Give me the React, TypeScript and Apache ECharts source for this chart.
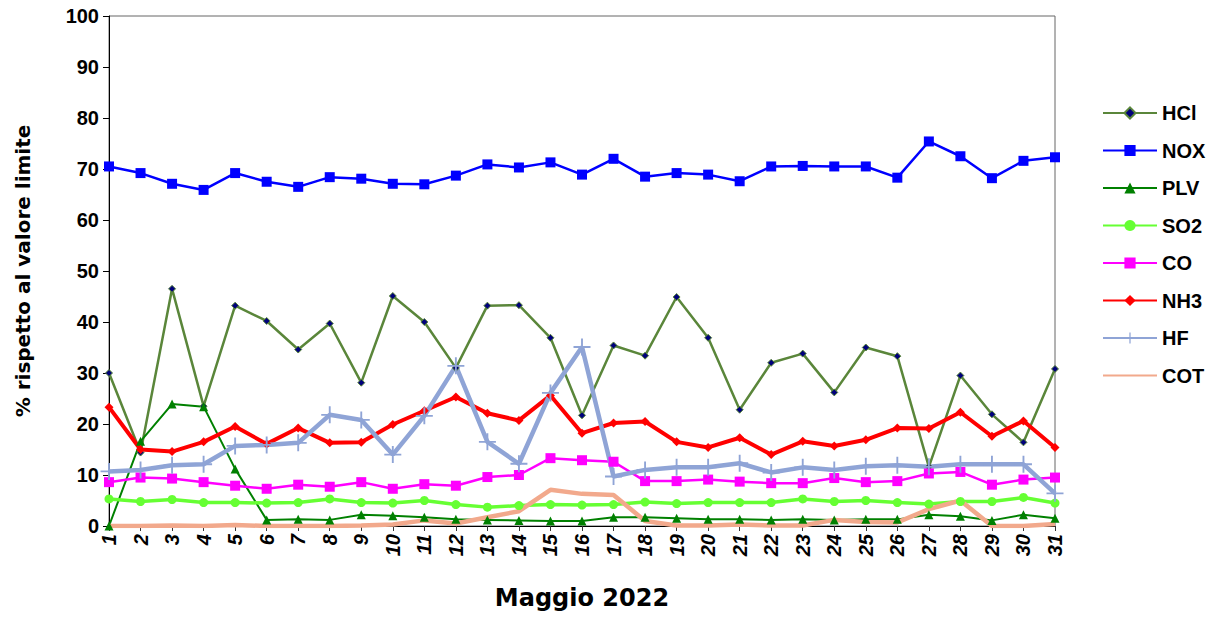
import React, { useEffect, useRef } from "react";
import * as echarts from "echarts";

const days = Array.from({ length: 31 }, (_, i) => String(i + 1));

const hcl = [30, 14.4, 46.5, 23.5, 43.2, 40.2, 34.6, 39.7, 28.1, 45.1, 40, 31, 43.2, 43.3, 36.9, 21.7, 35.4, 33.4, 44.9, 36.9, 22.8, 32, 33.8, 26.2, 35, 33.3, 11.6, 29.5, 21.9, 16.4, 30.8];
const nox = [70.5, 69.2, 67.1, 65.9, 69.2, 67.5, 66.5, 68.4, 68.1, 67.1, 67, 68.7, 70.9, 70.3, 71.3, 68.9, 72, 68.5, 69.2, 68.9, 67.6, 70.5, 70.6, 70.5, 70.5, 68.3, 75.4, 72.5, 68.2, 71.6, 72.3];
const plv = [0, 16.6, 23.9, 23.4, 11.2, 1.2, 1.3, 1.2, 2.2, 2.0, 1.7, 1.3, 1.2, 1.1, 1.0, 1.0, 1.7, 1.7, 1.5, 1.3, 1.3, 1.2, 1.3, 1.2, 1.3, 1.3, 2.2, 1.9, 1.1, 2.2, 1.5];
const so2 = [5.3, 4.8, 5.2, 4.6, 4.6, 4.5, 4.6, 5.3, 4.6, 4.5, 5.0, 4.2, 3.7, 4.0, 4.2, 4.1, 4.2, 4.7, 4.4, 4.6, 4.6, 4.6, 5.3, 4.8, 5.0, 4.6, 4.3, 4.8, 4.8, 5.6, 4.5];
const co = [8.6, 9.5, 9.3, 8.6, 7.9, 7.3, 8.1, 7.7, 8.6, 7.3, 8.2, 7.9, 9.6, 10.0, 13.3, 12.9, 12.6, 8.8, 8.8, 9.1, 8.7, 8.4, 8.4, 9.4, 8.6, 8.8, 10.3, 10.6, 8.1, 9.1, 9.5];
const nh3 = [23.3, 15.0, 14.6, 16.5, 19.5, 16.1, 19.2, 16.3, 16.4, 19.9, 22.6, 25.3, 22.1, 20.7, 25.6, 18.2, 20.2, 20.5, 16.5, 15.4, 17.3, 14.0, 16.6, 15.7, 16.9, 19.2, 19.1, 22.3, 17.6, 20.6, 15.4];
const hf = [10.7, 11.0, 11.9, 12.1, 15.7, 15.9, 16.3, 21.8, 20.8, 14.0, 21.6, 31.4, 16.5, 12.2, 26.1, 35.1, 9.7, 11.0, 11.5, 11.5, 12.3, 10.5, 11.5, 11.0, 11.7, 11.9, 11.6, 12.1, 12.1, 12.1, 6.4];
const cot = [0, 0, 0.1, 0, 0.2, 0, 0, 0, 0.1, 0.3, 1.1, 0.5, 1.7, 2.9, 7.1, 6.3, 6.1, 1.0, 0.1, 0.1, 0.3, 0.1, 0.1, 1.2, 0.8, 0.7, 3.3, 5.0, 0, 0, 0.4];

const seriesNames = ["HCl", "NOX", "PLV", "SO2", "CO", "NH3", "HF", "COT"];
const yTicks = { min: 0, max: 100, interval: 10 };

const plusPath =
  "path://M-1.1,-10 L1.1,-10 L1.1,-1.1 L10,-1.1 L10,1.1 L1.1,1.1 L1.1,10 L-1.1,10 L-1.1,1.1 L-10,1.1 L-10,-1.1 L-1.1,-1.1 Z";

export default function App() {
  const ref = useRef<HTMLDivElement>(null);
  useEffect(() => {
    if (!ref.current) return;
    const chart = echarts.init(ref.current, null, { renderer: "svg" });
    const mk = (
      name: string,
      data: number[],
      color: string,
      width: number,
      symbol: string,
      size: number,
      itemColor?: string,
      borderColor?: string
    ) => ({
      name,
      type: "line",
      data,
      symbol,
      symbolSize: size,
      showSymbol: symbol !== "none",
      lineStyle: { color, width },
      itemStyle: {
        color: itemColor || color,
        borderColor: borderColor || itemColor || color,
        borderWidth: borderColor ? 1 : 0,
      },
      emphasis: { disabled: true },
    });
    chart.setOption({
      animation: false,
      backgroundColor: "#ffffff",
      grid: {
        left: 109,
        right: 164,
        top: 16,
        bottom: 92,
        show: true,
        borderColor: "#666",
        borderWidth: 1,
      },
      legend: {
        orient: "vertical",
        left: 1097,
        top: 98,
        itemWidth: 54,
        itemHeight: 14,
        itemGap: 17.5,
        textStyle: {
          fontFamily: "Liberation Sans, Arial",
          fontWeight: "bold",
          fontSize: 20,
          color: "#000",
        },
        data: seriesNames.map((n) =>
          n === "COT" ? { name: n, itemStyle: { opacity: 0 } } : { name: n }
        ),
      },
      xAxis: {
        type: "category",
        data: days,
        boundaryGap: false,
        axisLine: { lineStyle: { color: "#000", width: 1 } },
        axisTick: { show: true, alignWithLabel: true, length: 5, lineStyle: { color: "#333" } },
        axisLabel: {
          rotate: 90,
          margin: 8,
          fontFamily: "Liberation Sans, Arial",
          fontWeight: "bold",
          fontStyle: "italic",
          fontSize: 20,
          color: "#000",
        },
        name: "Maggio 2022",
        nameLocation: "middle",
        nameGap: 60,
        nameTextStyle: {
          fontFamily: "DejaVu Sans",
          fontWeight: "bold",
          fontSize: 24,
          color: "#000",
        },
        splitLine: { show: false },
      },
      yAxis: {
        type: "value",
        min: yTicks.min,
        max: yTicks.max,
        interval: yTicks.interval,
        axisLine: { show: true, lineStyle: { color: "#000", width: 1 } },
        axisTick: { show: true, length: 6, lineStyle: { color: "#000" } },
        axisLabel: {
          margin: 10,
          fontFamily: "Liberation Sans, Arial",
          fontWeight: "bold",
          fontSize: 20,
          color: "#000",
        },
        splitLine: { show: false },
        name: "% rispetto al valore limite",
        nameLocation: "middle",
        nameGap: 76,
        nameTextStyle: {
          fontFamily: "DejaVu Sans",
          fontWeight: "bold",
          fontSize: 20,
          color: "#000",
        },
      },
      series: [
        mk("HCl", hcl, "#5a863a", 2.5, "diamond", 7, "#00007a", "#5a863a"),
        mk("NOX", nox, "#0000ff", 2.5, "rect", 10),
        mk("PLV", plv, "#008000", 2, "triangle", 9),
        mk("SO2", so2, "#66ff33", 3.5, "circle", 9),
        mk("CO", co, "#ff00ff", 2.5, "rect", 10),
        mk("NH3", nh3, "#ff0000", 4, "diamond", 9),
        mk("HF", hf, "#8fa4d6", 4.5, plusPath, 17),
        mk("COT", cot, "#f2a98c", 4.5, "none", 0),
      ],
    });
    return () => chart.dispose();
  }, []);
  return (
    <div
      ref={ref}
      style={{ position: "fixed", left: 0, top: 0, width: 1219, height: 618, background: "#fff" }}
    />
  );
}
